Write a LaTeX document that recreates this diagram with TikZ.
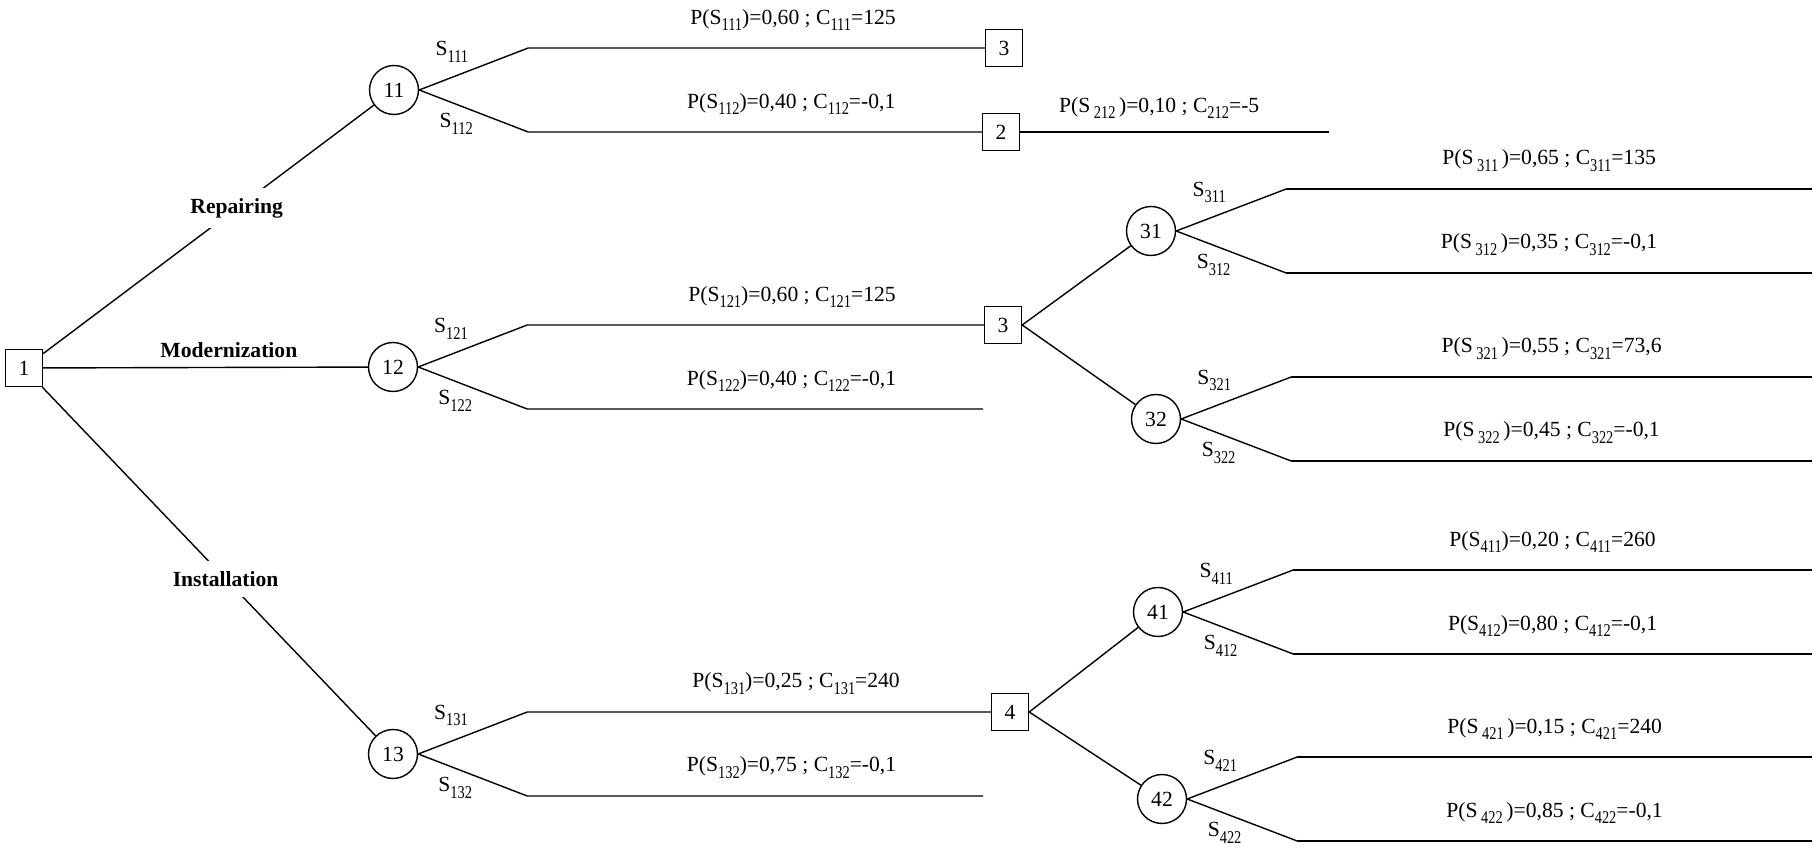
\documentclass[tikz,border=0pt]{standalone}
\usepackage{fontspec}
\usepackage{graphicx}
\setmainfont{Liberation Serif}
\usetikzlibrary{calc}

\newcommand{\treefont}{\fontsize{10.8}{13}\selectfont}
% low, narrow subscript as in the original
\newcommand{\lowsub}[1]{\raisebox{-3.3pt}{\scalebox{0.8}[1]{\fontsize{9}{9}\selectfont #1}}}
% probability and cost of a state
\newcommand{\pcost}[3]{P(S\lowsub{#1})=#2 ; C\lowsub{#1}=#3}
\newcommand{\pcostw}[3]{P(S\,\lowsub{#1}\,)=#2 ; C\lowsub{#1}=#3}

\tikzset{
  decision/.style={draw, minimum size=18.5pt, inner sep=0pt},
  chance/.style={draw, circle, minimum size=24.5pt, inner sep=0pt},
  act/.style={font=\treefont\bfseries, fill=white, inner xsep=1pt, inner ysep=5pt},
}

\begin{document}
\begin{tikzpicture}[x=0.5pt, y=-0.5pt, line width=0.7pt, font=\treefont]
\useasboundingbox (0,0) rectangle (1817,849);
% decision and chance nodes
\node[decision] (d1) at (24,368) {1};
\node[chance] (c11) at (394,90) {11};
\node[chance] (c12) at (393,367) {12};
\node[chance] (c13) at (393,754) {13};
\node[decision] (d3a) at (1004,48) {3};
\node[decision] (d2) at (1001,132) {2};
\node[decision] (d3) at (1003,325) {3};
\node[decision] (d4) at (1010,712) {4};
\node[chance] (c31) at (1151,231) {31};
\node[chance] (c32) at (1156,419) {32};
\node[chance] (c41) at (1158,612) {41};
\node[chance] (c42) at (1162,799) {42};
% free ends
\coordinate (e212) at (1329,132);
\coordinate (e122) at (983,409);
\coordinate (e132) at (983,796);
\coordinate (rim) at (1812,0);

% alternatives
\draw (d1) -- node[act, pos=0.585] {Repairing} (c11);
\draw (d1) -- node[above=1pt, pos=0.572, font=\treefont\bfseries] {Modernization} (c12);
\draw (d1) -- node[act, pos=0.55] {Installation} (c13);

% first states
\draw (c11.east) -- node[pos=0.3, above=4pt] {S\lowsub{111}} ++(109,-42)
   -- node[pos=0.58, above=5pt] {\pcost{111}{0,60}{125}} (d3a);
\draw (c11.east) -- node[pos=0.34, below=1pt] {S\lowsub{112}} ++(109,42)
   -- node[pos=0.58, above=5pt] {\pcost{112}{0,40}{-0,1}} (d2);
\draw (d2) -- node[pos=0.45, above=3pt] {\pcostw{212}{0,10}{-5}} (e212);
\draw (c12.east) -- node[pos=0.3, above=4pt] {S\lowsub{121}} ++(109,-42)
   -- node[pos=0.58, above=5pt] {\pcost{121}{0,60}{125}} (d3);
\draw (c12.east) -- node[pos=0.34, below=1pt] {S\lowsub{122}} ++(109,42)
   -- node[pos=0.58, above=5pt] {\pcost{122}{0,40}{-0,1}} (e122);
\draw (c13.east) -- node[pos=0.3, above=4pt] {S\lowsub{131}} ++(109,-42)
   -- node[pos=0.58, above=5pt] {\pcost{131}{0,25}{240}} (d4);
\draw (c13.east) -- node[pos=0.34, below=1pt] {S\lowsub{132}} ++(109,42)
   -- node[pos=0.58, above=5pt] {\pcost{132}{0,75}{-0,1}} (e132);

% second decisions
\foreach \c in {31,32}
  \draw (d3.east) -- (c\c);
\foreach \c in {41,42}
  \draw (d4.east) -- (c\c);

% second states
\foreach \c in {31,32,41,42}{
  \draw (c\c.east) -- node[pos=0.3, above=4pt] {S\lowsub{\c 1}} ++(110,-42) coordinate (k\c a);
  \draw (c\c.east) -- node[pos=0.34, below=1pt] {S\lowsub{\c 2}} ++(110,42) coordinate (k\c b);
}
\draw (k31a) -- node[above=5pt] {\pcostw{311}{0,65}{135}} (k31a -| rim);
\draw (k31b) -- node[above=5pt] {\pcostw{312}{0,35}{-0,1}} (k31b -| rim);
\draw (k32a) -- node[above=5pt] {\pcostw{321}{0,55}{73,6}} (k32a -| rim);
\draw (k32b) -- node[above=5pt] {\pcostw{322}{0,45}{-0,1}} (k32b -| rim);
\draw (k41a) -- node[above=5pt] {\pcost{411}{0,20}{260}} (k41a -| rim);
\draw (k41b) -- node[above=5pt] {\pcost{412}{0,80}{-0,1}} (k41b -| rim);
\draw (k42a) -- node[above=5pt] {\pcostw{421}{0,15}{240}} (k42a -| rim);
\draw (k42b) -- node[above=5pt] {\pcostw{422}{0,85}{-0,1}} (k42b -| rim);
\end{tikzpicture}
\end{document}
